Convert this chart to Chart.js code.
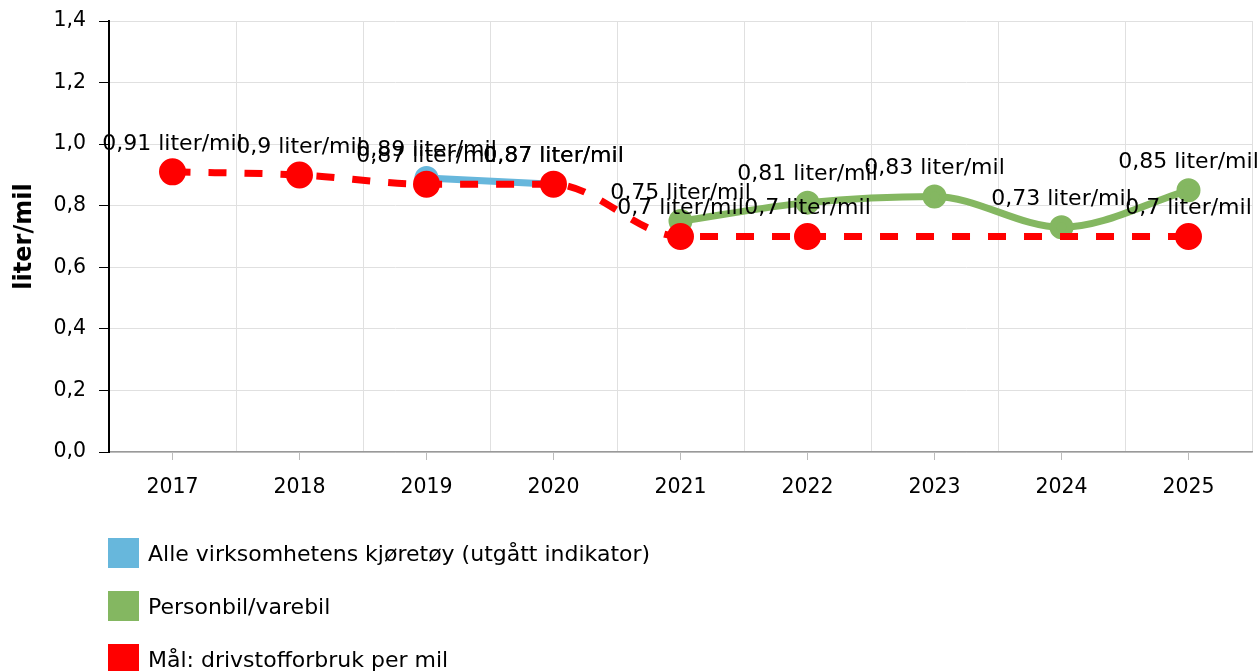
<!DOCTYPE html>
<html>
<head>
<meta charset="utf-8">
<script src="https://cdn.jsdelivr.net/npm/chart.js@4"></script>
<style>
body { margin: 0; background: #fff; font-family: "DejaVu Sans", Verdana, sans-serif; }
#wrap { position: relative; width: 1260px; height: 671px; }
#wrap canvas { display: block; }
#legend { position: absolute; left: 108px; top: 538px; }
.item { display: flex; align-items: center; height: 30px; margin-bottom: 23px; font-size: 22px; color: #000; white-space: nowrap; }
.box { width: 31px; height: 30px; margin-right: 9px; }
</style>
</head>
<body>
<div id="wrap">
  <canvas id="chart" width="1260" height="671"></canvas>
  <div id="legend"></div>
</div>
<script>
// years on the x axis
const YEARS = ["2017", "2018", "2019", "2020", "2021", "2022", "2023", "2024", "2025"];
// series (null = no value that year)
const ALLE = [null, null, 0.89, 0.87, null, null, null, null, null];
const PERSONBIL = [null, null, null, null, 0.75, 0.81, 0.83, 0.73, 0.85];
const MAAL = [0.91, 0.9, 0.87, 0.87, 0.7, 0.7, null, null, 0.7];
const Y_TICKS = [0, 0.2, 0.4, 0.6, 0.8, 1.0, 1.2, 1.4];

const UNIT = " liter/mil";
function fmt(v) { return String(v).replace(".", ","); }

//draws "0,91 liter/mil" above every point
const valueLabels = {
    id: "valueLabels",
    afterDatasetsDraw(chart) {
        const ctx = chart.ctx;
        ctx.save();
        ctx.font = '22px "DejaVu Sans"';
        ctx.fillStyle = "#000";
        ctx.textAlign = "center";
        ctx.textBaseline = "middle";
        chart.data.datasets.forEach(function (ds, i) {
            chart.getDatasetMeta(i).data.forEach(function (pt, j) {
                if (ds.data[j] == null) return;
                ctx.fillText(fmt(ds.data[j]) + UNIT, pt.x, pt.y - 28);
            });
        });
        ctx.restore();
    }
};

//no extra room for edge labels, layout.padding decides the plot box
function noEdgePadding(scale) {
    scale.paddingTop = 0;
    scale.paddingBottom = 0;
    scale.paddingLeft = 0;
    scale.paddingRight = 0;
}

const ctx = document.getElementById("chart").getContext("2d");
const chart = new Chart(ctx, {
    type: "line",
    data: {
        labels: YEARS,
        datasets: [
            {
                label: "Alle virksomhetens kjøretøy (utgått indikator)",
                data: ALLE,
                borderColor: "#67b7dc",
                backgroundColor: "#67b7dc",
                borderWidth: 7,
                pointRadius: 8.5,
                order: 2
            },
            {
                label: "Personbil/varebil",
                data: PERSONBIL,
                borderColor: "#84b761",
                backgroundColor: "#84b761",
                borderWidth: 7,
                pointRadius: 8.5,
                cubicInterpolationMode: "monotone",
                order: 1
            },
            {
                label: "Mål: drivstofforbruk per mil",
                data: MAAL,
                borderColor: "#ff0000",
                backgroundColor: "#ff0000",
                borderWidth: 7,
                borderDash: [18, 18],
                pointRadius: 10,
                spanGaps: true,
                cubicInterpolationMode: "monotone",
                order: 0
            }
        ]
    },
    options: {
        responsive: false,
        animation: false,
        layout: { autoPadding: false, padding: { top: 21, right: 8, left: 0, bottom: 0 } },
        plugins: {
            legend: { display: false },
            tooltip: { enabled: false }
        },
        elements: { point: { borderWidth: 0, hoverRadius: 10 } },
        scales: {
            x: {
                offset: true,
                grid: { drawOnChartArea: false, tickLength: 8, color: "#bbbbbb" },
                border: { color: "#999999", width: 1.5 },
                ticks: { color: "#000", padding: 15, font: { family: "DejaVu Sans", size: 20.5 } },
                afterFit: function (scale) { scale.height = 219; noEdgePadding(scale); }
            },
            xg: {
                type: "category",
                position: "bottom",
                offset: true,
                grid: { offset: true, drawTicks: false, color: "#e0e0e0" },
                border: { display: false },
                ticks: { display: false },
                afterFit: function (scale) { scale.height = 0; noEdgePadding(scale); }
            },
            y: {
                min: 0,
                max: 1.4,
                afterBuildTicks: function (scale) { scale.ticks = Y_TICKS.map(v => ({ value: v })); },
                grid: { color: "#e0e0e0", tickColor: "#000", tickLength: 10 },
                border: { color: "#000", width: 2 },
                ticks: {
                    color: "#000",
                    padding: 13,
                    font: { family: "DejaVu Sans", size: 20.5 },
                    callback: function (v) { return v.toFixed(1).replace(".", ","); }
                },
                title: {
                    display: true,
                    text: "liter/mil",
                    color: "#000",
                    padding: { top: 10, bottom: 0 },
                    font: { family: "DejaVu Sans", size: 24, weight: "bold" }
                },
                afterFit: function (scale) { scale.width = 109; noEdgePadding(scale); }
            }
        }
    },
    plugins: [valueLabels]
});

// html legend, one row per series
const legend = document.getElementById("legend");
chart.data.datasets.forEach(function (ds) {
    const row = document.createElement("div");
    row.className = "item";
    row.innerHTML = '<span class="box" style="background:' + ds.backgroundColor + '"></span>' + ds.label;
    legend.appendChild(row);
});
</script>
</body>
</html>
